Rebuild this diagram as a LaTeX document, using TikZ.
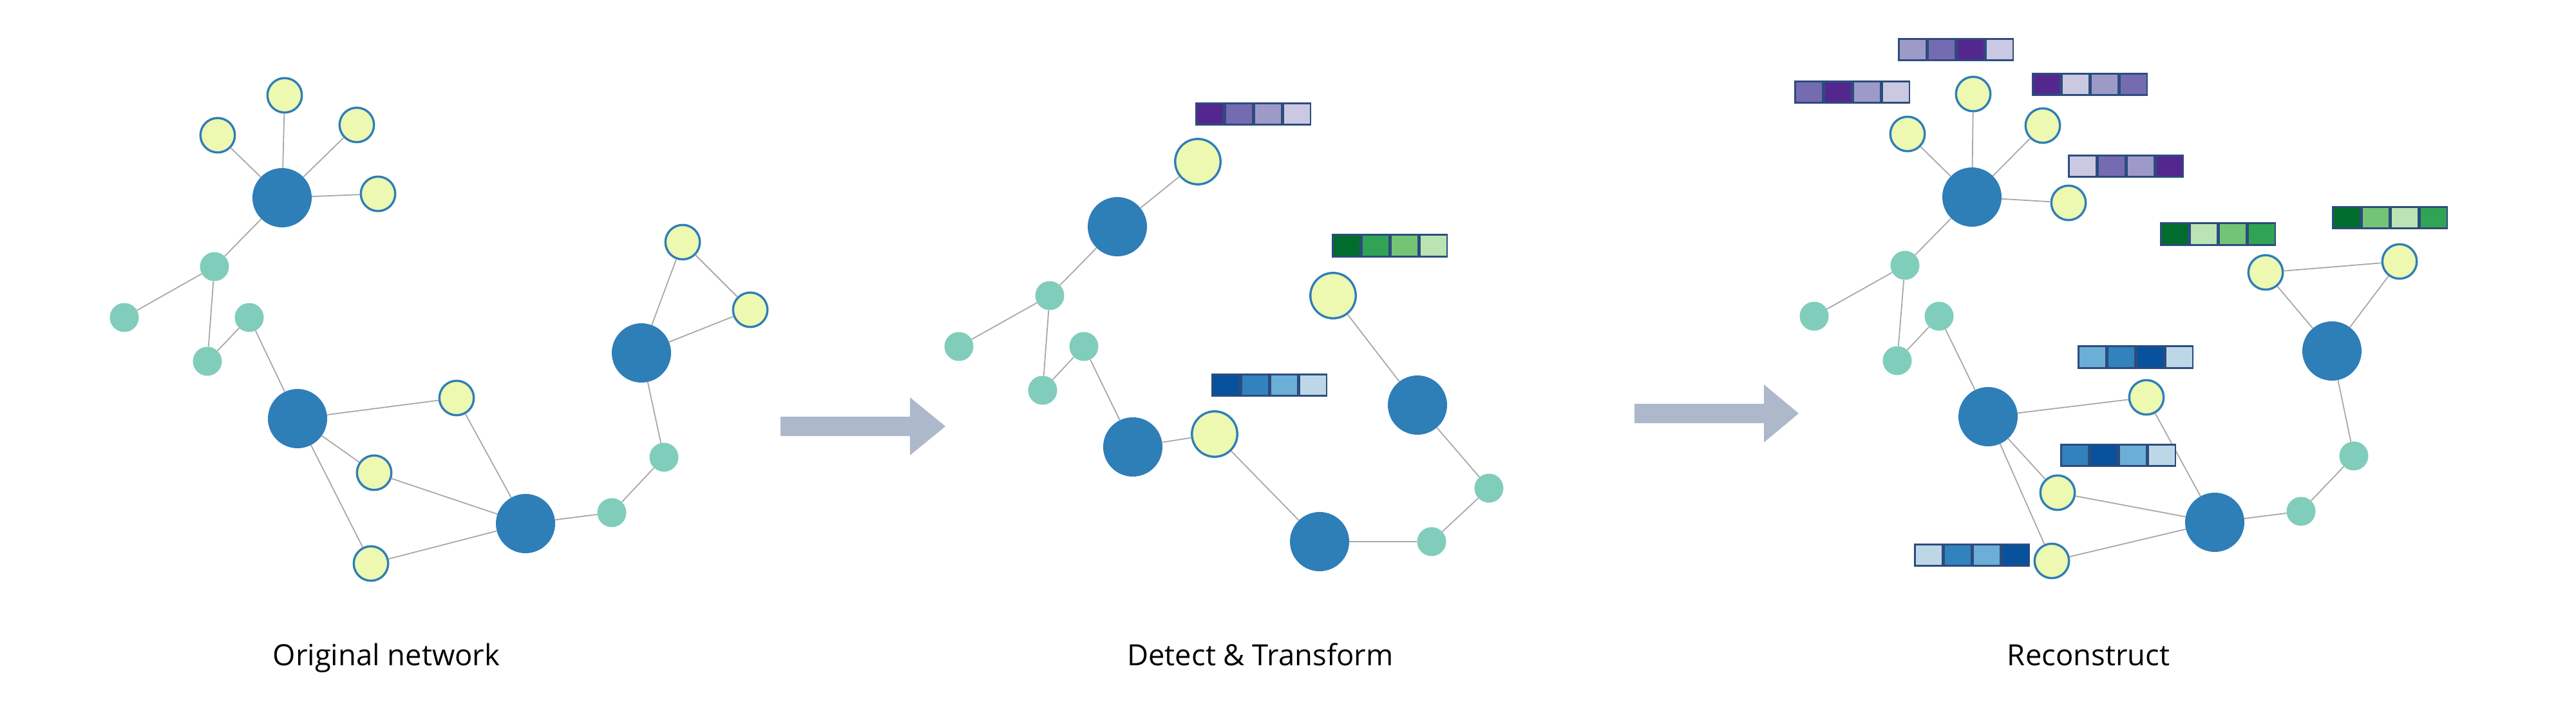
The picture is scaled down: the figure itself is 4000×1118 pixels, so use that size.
\documentclass[tikz,border=0pt]{standalone}
\usepackage{fontspec}
\setmainfont{Open Sans}
\definecolor{hubblue}{HTML}{2E7EB8}
\definecolor{leafyel}{HTML}{EDF8B1}
\definecolor{midteal}{HTML}{80CDBB}
\definecolor{edgegray}{HTML}{A8A8A8}
\definecolor{barline}{HTML}{2C4C7E}
\definecolor{arrowc}{HTML}{ADB9CA}
\definecolor{pA}{HTML}{54278F}
\definecolor{pB}{HTML}{756BB1}
\definecolor{pC}{HTML}{9E9AC8}
\definecolor{pD}{HTML}{CBC9E2}
\definecolor{gA}{HTML}{006D2C}
\definecolor{gB}{HTML}{31A354}
\definecolor{gC}{HTML}{74C476}
\definecolor{gD}{HTML}{BAE4B3}
\definecolor{bA}{HTML}{08519C}
\definecolor{bB}{HTML}{3182BD}
\definecolor{bC}{HTML}{6BAED6}
\definecolor{bD}{HTML}{BDD7E7}
\tikzset{
  hub/.style={circle, fill=hubblue, minimum size=92pt, inner sep=0pt},
  leaf/.style={circle, fill=leafyel, draw=hubblue, line width=3.4pt, minimum size=53.5pt, inner sep=0pt},
  bigleaf/.style={leaf, minimum size=70.5pt},
  mid/.style={circle, fill=midteal, minimum size=45pt, inner sep=0pt},
  link/.style={draw=edgegray, line width=1.8pt},
  cell/.style={rectangle, draw=barline, line width=2.6pt, minimum width=42.5pt, minimum height=33.5pt, inner sep=0pt, anchor=west},
  caption/.style={anchor=base, inner sep=0pt, font=\fontsize{45.4}{54}\selectfont},
  bigarrow/.style={fill=arrowc}
}
\newcommand\cbar[7]{%
  \node[cell, fill=#4] (#1a) at (#2,#3) {};
  \node[cell, fill=#5] (#1b) at (#1a.east) {};
  \node[cell, fill=#6] (#1c) at (#1b.east) {};
  \node[cell, fill=#7] (#1d) at (#1c.east) {};
}
\begin{document}
\begin{tikzpicture}[x=1pt, y=-1pt]
\useasboundingbox (0,0) rectangle (4000,1118);

% ---------------- Panel 1 ----------------
\node[hub]  (a1)  at (438,307) {};
\node[leaf] (a2)  at (442,148) {};
\node[leaf] (a3)  at (338,210) {};
\node[leaf] (a4)  at (554,194) {};
\node[leaf] (a5)  at (587,301) {};
\node[mid]  (a6)  at (333,414) {};
\node[mid]  (a7)  at (193,493) {};
\node[mid]  (a8)  at (387,493) {};
\node[mid]  (a9)  at (322,561) {};
\node[hub]  (a10) at (462,650) {};
\node[leaf] (a11) at (709,618) {};
\node[leaf] (a12) at (581,734) {};
\node[leaf] (a13) at (576,875) {};
\node[hub]  (a14) at (816,813) {};
\node[mid]  (a15) at (950,796) {};
\node[mid]  (a16) at (1031,710) {};
\node[hub]  (a17) at (996,548) {};
\node[leaf] (a18) at (1060,376) {};
\node[leaf] (a19) at (1165,481) {};
\foreach \u/\v in {a1/a2,a1/a3,a1/a4,a1/a5,a1/a6,a6/a7,a6/a9,a9/a8,a8/a10,
  a10/a11,a10/a12,a10/a13,a11/a14,a12/a14,a13/a14,a14/a15,a15/a16,a16/a17,
  a17/a18,a17/a19,a18/a19}
  \draw[link] (\u) -- (\v);

% ---------------- Arrows ----------------
\fill[bigarrow] (1212,647) -- (1413,647) -- (1413,617) -- (1468,662) -- (1413,707) -- (1413,677) -- (1212,677) -- cycle;
\fill[bigarrow] (2538,627) -- (2739,627) -- (2739,597) -- (2793,642) -- (2739,687) -- (2739,657) -- (2538,657) -- cycle;

% ---------------- Panel 2 ----------------
\node[bigleaf] (b1)  at (1860,251) {};
\node[hub]     (b2)  at (1735,352) {};
\node[mid]     (b3)  at (1630,459) {};
\node[mid]     (b4)  at (1489,538) {};
\node[mid]     (b5)  at (1683,538) {};
\node[mid]     (b6)  at (1619,606) {};
\node[hub]     (b7)  at (1759,694) {};
\node[bigleaf] (b8)  at (1886,674) {};
\node[hub]     (b9)  at (2049,841) {};
\node[mid]     (b10) at (2223,841) {};
\node[mid]     (b11) at (2312,758) {};
\node[hub]     (b12) at (2201,629) {};
\node[bigleaf] (b13) at (2070,459) {};
\foreach \u/\v in {b1/b2,b2/b3,b3/b4,b3/b6,b6/b5,b5/b7,b7/b8,b8/b9,b9/b10,
  b10/b11,b11/b12,b12/b13}
  \draw[link] (\u) -- (\v);
\cbar{q1}{1856}{177}{pA}{pB}{pC}{pD}
\cbar{q2}{2068}{381.5}{gA}{gB}{gC}{gD}
\cbar{q3}{1881}{598}{bA}{bB}{bC}{bD}

% ---------------- Panel 3 ----------------
\node[hub]  (c1)  at (3062,306) {};
\node[leaf] (c2)  at (3064,146) {};
\node[leaf] (c3)  at (2962,208) {};
\node[leaf] (c4)  at (3172,195) {};
\node[leaf] (c5)  at (3212,315) {};
\node[mid]  (c6)  at (2958,412) {};
\node[mid]  (c7)  at (2817,491) {};
\node[mid]  (c8)  at (3011,491) {};
\node[mid]  (c9)  at (2946,560) {};
\node[hub]  (c10) at (3087,647) {};
\node[leaf] (c11) at (3333,617) {};
\node[leaf] (c12) at (3195,765) {};
\node[leaf] (c13) at (3186,871) {};
\node[hub]  (c14) at (3439,811) {};
\node[mid]  (c15) at (3573,794) {};
\node[mid]  (c16) at (3655,708) {};
\node[hub]  (c17) at (3621,545) {};
\node[leaf] (c18) at (3518,423) {};
\node[leaf] (c19) at (3726,406) {};
\foreach \u/\v in {c1/c2,c1/c3,c1/c4,c1/c5,c1/c6,c6/c7,c6/c9,c9/c8,c8/c10,
  c10/c11,c10/c12,c10/c13,c11/c14,c12/c14,c13/c14,c14/c15,c15/c16,c16/c17,
  c17/c18,c17/c19,c18/c19}
  \draw[link] (\u) -- (\v);
\cbar{r1}{2947}{77}{pC}{pB}{pA}{pD}
\cbar{r2}{2786}{143}{pB}{pA}{pC}{pD}
\cbar{r3}{3155}{131}{pA}{pD}{pC}{pB}
\cbar{r4}{3211}{258}{pD}{pB}{pC}{pA}
\cbar{r5}{3354}{363.5}{gA}{gD}{gC}{gB}
\cbar{r6}{3621}{338}{gA}{gC}{gD}{gB}
\cbar{r7}{3226}{554.5}{bC}{bB}{bA}{bD}
\cbar{r8}{3199}{707}{bB}{bA}{bC}{bD}
\cbar{r9}{2972}{862}{bD}{bB}{bC}{bA}

% ---------------- Captions ----------------
\node[caption] (t1) at (600,1033) {Original network};
\node[caption] (t2) at (1957,1033) {Detect \& Transform};
\node[caption] (t3) at (3243,1033) {Reconstruct};
\end{tikzpicture}
\end{document}
